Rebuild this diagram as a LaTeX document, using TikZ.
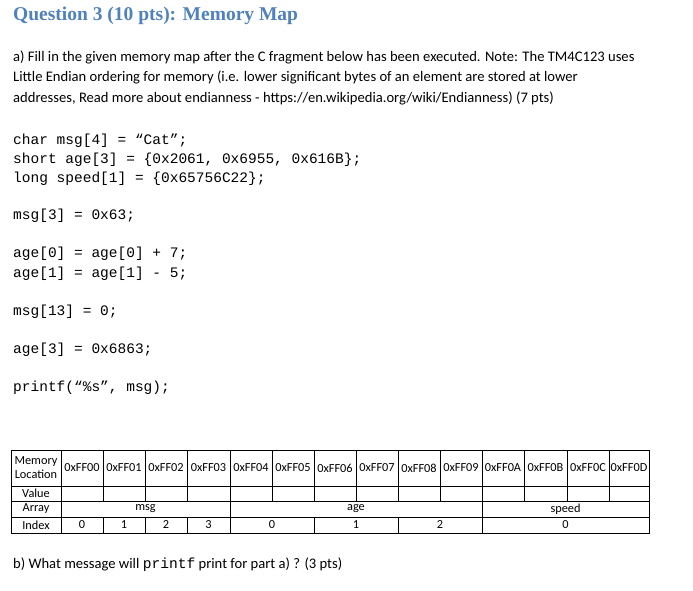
\documentclass[tikz,border=0pt]{standalone}
\usepackage{fontspec}
\setmainfont{Carlito}
\newfontfamily\codefont{Liberation Mono}
\newfontfamily\titlefont{Liberation Serif}
\definecolor{titleblue}{RGB}{79,129,189}
\begin{document}
\begin{tikzpicture}[x=1pt,y=-1pt,
  body/.style={anchor=west,inner sep=0pt,font=\fontsize{14.6}{16}\selectfont},
  code/.style={anchor=west,inner sep=0pt,font=\codefont\fontsize{14.5}{16}\selectfont},
  cell/.style={inner sep=0pt,font=\fontsize{12.3}{13}\selectfont,align=center},
  grid/.style={draw=black,line width=0.6pt}]
\useasboundingbox (0,0) rectangle (693,591);
\node[anchor=west,inner sep=0pt,text=titleblue,font=\titlefont\bfseries\fontsize{19.5}{21}\selectfont] (title) at (13,16) {Question 3 (10 pts): Memory Map};
\node[body] (l1) at (13,57) {a) Fill in the given memory map after the C fragment below has been executed. Note: The TM4C123 uses};
\node[body] (l2) at (13,77) {Little Endian ordering for memory (i.e. lower significant bytes of an element are stored at lower};
\node[body] (l3) at (13,98) {addresses, Read more about endianness - https://en.wikipedia.org/wiki/Endianness) (7 pts)};
\node[code] (c1) at (13,141) {char msg[4] = “Cat”;};
\node[code] (c2) at (13,160) {short age[3] = \{0x2061, 0x6955, 0x616B\};};
\node[code] (c3) at (13,179) {long speed[1] = \{0x65756C22\};};
\node[code] (c4) at (13,216) {msg[3] = 0x63;};
\node[code] (c5) at (13,254) {age[0] = age[0] + 7;};
\node[code] (c6) at (13,274) {age[1] = age[1] - 5;};
\node[code] (c7) at (13,312) {msg[13] = 0;};
\node[code] (c8) at (13,350) {age[3] = 0x6863;};
\node[code] (c9) at (13,388) {printf(“\%s”, msg);};
\node[body] (b1) at (13,565) {b) What message will {\codefont printf} print for part a) ? (3 pts)};
% table
\def\T{450}\def\R{486}\def\V{501}\def\A{517}\def\B{533}
\draw[grid] (11,\T) rectangle (649,\B);
\draw[grid] (11,\R) -- (649,\R) (11,\V) -- (649,\V) (11,\A) -- (649,\A);
\draw[grid] (61,\T) -- (61,\B);
\foreach \x in {103,145,187,230,272,314,356,398,440,482,524,567,609}{\draw[grid] (\x,\T) -- (\x,\V);}
\foreach \x in {230,482}{\draw[grid] (\x,\V) -- (\x,\B);}
\foreach \x in {103,145,187,314,398}{\draw[grid] (\x,\A) -- (\x,\B);}
\node[cell,font=\fontsize{12.3}{14}\selectfont] (h0) at (36,468) {Memory\\Location};
\foreach \i/\l/\c in {0/00/82,1/01/124,2/02/166,3/03/208.5,4/04/251,5/05/293,6/06/335,7/07/377,8/08/419,9/09/461,10/0A/503,11/0B/545.5,12/0C/588,13/0D/629}{
  \node[cell] (m\i) at (\c,468) {0xFF\l};}
\node[cell] (v0) at (36,493.5) {Value};
\node[cell] (a0) at (36,509) {Array};
\node[cell] (am) at (145.5,509) {msg};
\node[cell] (aa) at (356,509) {age};
\node[cell] (as) at (565.5,509) {speed};
\node[cell] (i0) at (36,525) {Index};
\node[cell] (i1) at (82,525) {0};
\node[cell] (i2) at (124,525) {1};
\node[cell] (i3) at (166,525) {2};
\node[cell] (i4) at (208.5,525) {3};
\node[cell] (i5) at (272,525) {0};
\node[cell] (i6) at (356,525) {1};
\node[cell] (i7) at (440,525) {2};
\node[cell] (i8) at (565.5,525) {0};
\end{tikzpicture}
\end{document}
